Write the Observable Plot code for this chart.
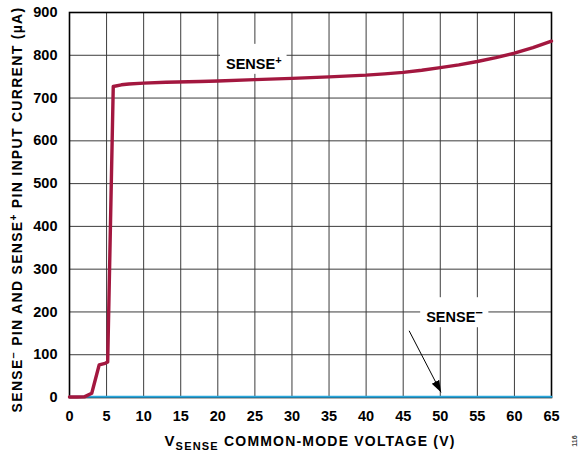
<!DOCTYPE html>
<html>
<head>
<meta charset="utf-8">
<script src="https://cdn.jsdelivr.net/npm/d3@7"></script>
<script src="https://cdn.jsdelivr.net/npm/@observablehq/plot@0.6"></script>
<style>
  html, body { margin: 0; padding: 0; background: #fff; }
  svg { display: block; }
</style>
</head>
<body>
<script>
// Axis ticks
const xTicks = [0, 5, 10, 15, 20, 25, 30, 35, 40, 45, 50, 55, 60, 65];
const yTicks = [0, 100, 200, 300, 400, 500, 600, 700, 800, 900];

// SENSE+ pin input current (µA) vs. common-mode voltage (V)
const plusVoltage = [0, 1, 2, 3, 4, 4.8, 5.15, 5.9, 7, 8, 10, 13, 17.6, 20, 25, 30, 35, 40, 42.5, 45, 47.5, 50, 52.5, 55, 57.5, 60, 62.5, 65];
const plusCurrent = [1, 1, 1.5, 10, 76, 80, 83, 727, 731, 733, 735, 737, 738.6, 740, 743, 746, 749.5, 753.5, 756.5, 760, 765, 771, 777.5, 785.5, 794.5, 805, 818, 833];

// SENSE− pin input current (µA)
const minusVoltage = [0, 10, 20, 30, 40, 50, 60, 65];
const minusCurrent = [1.5, 1.5, 1.5, 1.5, 1.5, 1.5, 1.5, 1.5];

// Curve labels and the pointer to the SENSE− trace
const labelX = [21.1, 48.1];
const labelY = [768.3, 176];
const labelName = ["SENSE", "SENSE"];
const labelSup = ["+", "\u2212"];
const labelSupSize = [11, 13];
const pointer = {x1: 45.8, y1: 156, x2: 50.1, y2: 12};

const plus = plusVoltage.map((v, i) => ({v, i: plusCurrent[i]}));
const minus = minusVoltage.map((v, i) => ({v, i: minusCurrent[i]}));
const labels = labelX.map((x, k) => ({x, y: labelY[k], name: labelName[k], sup: labelSup[k], supSize: labelSupSize[k]}));

const font = "'Liberation Sans', Arial, Helvetica, sans-serif";

const chart = Plot.plot({
  width: 586,
  height: 455,
  marginLeft: 69,
  marginRight: 35,
  marginTop: 12,
  marginBottom: 58,
  style: {fontFamily: font, fontSize: "14.5px", fontWeight: "bold", color: "#000", background: "#fff"},
  x: {domain: [0, 65], ticks: xTicks, tickSize: 0, tickPadding: 13, label: null},
  y: {domain: [0, 900], ticks: yTicks, tickSize: 0, tickPadding: 12, label: null},
  marks: [
    Plot.ruleX(xTicks, {stroke: "#3c3c3c", strokeWidth: 1}),
    Plot.ruleY(yTicks, {stroke: "#3c3c3c", strokeWidth: 1}),
    Plot.frame({stroke: "#000", strokeWidth: 1.6}),
    Plot.line(minus, {x: "v", y: "i", stroke: "#2aa7dc", strokeWidth: 2}),
    Plot.line(plus, {x: "v", y: "i", stroke: "#a3173f", strokeWidth: 3.4, strokeLinejoin: "round"}),
    Plot.link([pointer], {x1: "x1", y1: "y1", x2: "x2", y2: "y2", stroke: "#000", strokeWidth: 1}),
    Plot.text(labels, {x: "x", y: "y", text: "name", textAnchor: "start", lineAnchor: "bottom",
      fontSize: 14.5, fontWeight: "bold", fill: "#000"})
  ]
});

document.body.append(chart);

const svg = d3.select(chart);

// Filled arrowhead for the pointer
const defs = svg.insert("defs", ":first-child");
defs.append("marker")
  .attr("id", "pointer-head")
  .attr("markerUnits", "userSpaceOnUse")
  .attr("viewBox", "0 -5 12 10")
  .attr("refX", 12).attr("refY", 0)
  .attr("markerWidth", 12).attr("markerHeight", 10)
  .attr("orient", "auto")
  .append("path").attr("d", "M0,-4.2L12,0L0,4.2Z").attr("fill", "#000");
svg.selectAll('g[aria-label="link"] path').attr("marker-end", "url(#pointer-head)");

// Superscripts on the curve labels, then a white box behind each label
svg.selectAll('g[aria-label="text"] text').each(function(d, k) {
  const t = d3.select(this);
  t.append("tspan").attr("dy", -5).attr("font-size", labels[k].supSize).text(labels[k].sup);
  const b = this.getBBox();
  const baseline = b.y + b.height - 3;
  d3.select(this.parentNode).insert("rect", ":first-child")
    .attr("transform", t.attr("transform"))
    .attr("x", b.x - 6).attr("y", baseline - 25)
    .attr("width", b.width + 11).attr("height", 30)
    .attr("fill", "#fff");
});

// Y-axis title
const yTitle = svg.append("text")
  .attr("transform", "translate(21.7,209.5) rotate(-90)")
  .attr("text-anchor", "middle")
  .attr("font-family", font).attr("font-weight", "bold").attr("font-size", 14)
  .attr("letter-spacing", 1.3).attr("fill", "#000");
yTitle.append("tspan").text("SENSE");
yTitle.append("tspan").attr("dy", -5).attr("font-size", 11).text("\u2013");
yTitle.append("tspan").attr("dy", 5).text(" PIN AND SENSE");
yTitle.append("tspan").attr("dy", -5).attr("font-size", 10).text("+");
yTitle.append("tspan").attr("dy", 5).text(" PIN INPUT CURRENT (\u00B5A)");

// X-axis title
const xTitle = svg.append("text")
  .attr("x", 310).attr("y", 446)
  .attr("text-anchor", "middle")
  .attr("font-family", font).attr("font-weight", "bold").attr("font-size", 14)
  .attr("letter-spacing", 1.2).attr("fill", "#000");
xTitle.append("tspan").attr("font-size", 15).text("V");
xTitle.append("tspan").attr("dy", 4).attr("font-size", 11).text("SENSE");
xTitle.append("tspan").attr("dy", -4).text(" COMMON-MODE VOLTAGE (V)");

// Figure number
svg.append("text")
  .attr("transform", "translate(577,441) rotate(-90)")
  .attr("text-anchor", "middle")
  .attr("font-family", font).attr("font-size", 7).attr("fill", "#444")
  .text("116");
</script>
</body>
</html>
